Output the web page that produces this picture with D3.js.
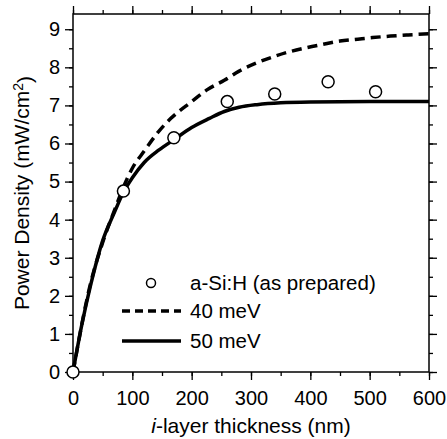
<!DOCTYPE html>
<html>
<head>
<meta charset="utf-8">
<script src="https://cdn.jsdelivr.net/npm/d3@7"></script>
<style>
body { margin: 0; background: #fff; }
text { font-family: "Liberation Sans", Arial, sans-serif; }
</style>
</head>
<body>
<div id="chart-area"></div>
<script>
// measured points
var thickness = [0, 85, 170, 260, 340, 430, 510];
var power = [0, 4.75, 6.15, 7.1, 7.3, 7.62, 7.36];

// model curves
var x40 = [0, 30, 50, 70, 85, 100, 120, 140, 165, 200, 225, 255, 280, 310, 340, 365, 395, 420, 450, 480, 505, 535, 565, 600];
var y40 = [0, 2.35, 3.4, 4.25, 4.85, 5.35, 5.8, 6.23, 6.66, 7.1, 7.4, 7.66, 7.9, 8.12, 8.29, 8.41, 8.52, 8.6, 8.69, 8.74, 8.78, 8.82, 8.85, 8.88];
var x50 = [0, 15, 30, 50, 70, 85, 100, 120, 145, 170, 200, 230, 255, 280, 310, 350, 400, 500, 600];
var y50 = [0, 1.25, 2.3, 3.45, 4.2, 4.72, 5.1, 5.5, 5.83, 6.1, 6.42, 6.66, 6.84, 6.95, 7.02, 7.07, 7.09, 7.1, 7.1];

var xTicks = [0, 100, 200, 300, 400, 500, 600];
var yTicks = [0, 1, 2, 3, 4, 5, 6, 7, 8, 9];

var margin = {top: 14, right: 18, bottom: 67, left: 73};
var width = 447 - margin.left - margin.right;
var height = 439 - margin.top - margin.bottom;

var svg = d3.select("#chart-area").append("svg")
	.attr("width", 447)
	.attr("height", 439);

var g = svg.append("g")
	.attr("transform", "translate(" + margin.left + ", " + margin.top + ")");

var x = d3.scaleLinear().domain([0, 600]).range([0, width]);
var y = d3.scaleLinear().domain([0, 9.4]).range([height, 0]);

var minorX = d3.range(0, 601, 50);
var minorY = d3.range(0, 9.4, 0.5);

function styleAxis(sel) {
	sel.select(".domain").remove();
	sel.selectAll("line").attr("stroke", "#000").attr("stroke-width", 1.3);
	sel.selectAll("text").attr("font-size", "20px").attr("fill", "#000");
}

// minor ticks on all sides
g.append("g").attr("transform", "translate(0," + height + ")")
	.call(d3.axisBottom(x).tickValues(minorX).tickSize(4).tickFormat(""))
	.call(styleAxis);
g.append("g")
	.call(d3.axisTop(x).tickValues(minorX).tickSize(4).tickFormat(""))
	.call(styleAxis);
g.append("g")
	.call(d3.axisLeft(y).tickValues(minorY).tickSize(4).tickFormat(""))
	.call(styleAxis);
g.append("g").attr("transform", "translate(" + width + ",0)")
	.call(d3.axisRight(y).tickValues(minorY).tickSize(4).tickFormat(""))
	.call(styleAxis);

// major ticks
g.append("g").attr("transform", "translate(0," + height + ")")
	.call(d3.axisBottom(x).tickValues(xTicks).tickSize(8).tickPadding(11))
	.call(styleAxis);
g.append("g")
	.call(d3.axisTop(x).tickValues(xTicks).tickSize(8).tickFormat(""))
	.call(styleAxis);
g.append("g")
	.call(d3.axisLeft(y).tickValues(yTicks).tickSize(8).tickPadding(5))
	.call(styleAxis);
g.append("g").attr("transform", "translate(" + width + ",0)")
	.call(d3.axisRight(y).tickValues(yTicks).tickSize(8).tickFormat(""))
	.call(styleAxis);

// frame
g.append("rect")
	.attr("width", width)
	.attr("height", height)
	.attr("fill", "none")
	.attr("stroke", "#000")
	.attr("stroke-width", 1.5);

var line = d3.line()
	.x((d) => x(d[0]))
	.y((d) => y(d[1]))
	.curve(d3.curveMonotoneX);

g.append("path")
	.datum(x40.map((v, i) => [v, y40[i]]))
	.attr("d", line)
	.attr("fill", "none")
	.attr("stroke", "#000")
	.attr("stroke-width", 3.5)
	.attr("stroke-dasharray", "10,6");

g.append("path")
	.datum(x50.map((v, i) => [v, y50[i]]))
	.attr("d", line)
	.attr("fill", "none")
	.attr("stroke", "#000")
	.attr("stroke-width", 3.5);

g.selectAll("circle.pt")
	.data(thickness)
	.enter().append("circle")
	.attr("class", "pt")
	.attr("cx", (d) => x(d))
	.attr("cy", (d, i) => y(power[i]))
	.attr("r", 6)
	.attr("fill", "#fff")
	.attr("stroke", "#000")
	.attr("stroke-width", 1.5);

// legend
var lg = svg.append("g");
lg.append("circle").attr("cx", 151).attr("cy", 283).attr("r", 4.5)
	.attr("fill", "#fff").attr("stroke", "#000").attr("stroke-width", 1.5);
lg.append("line").attr("x1", 122).attr("x2", 181).attr("y1", 311).attr("y2", 311)
	.attr("stroke", "#000").attr("stroke-width", 3.5).attr("stroke-dasharray", "8,5");
lg.append("line").attr("x1", 122).attr("x2", 181).attr("y1", 341).attr("y2", 341)
	.attr("stroke", "#000").attr("stroke-width", 3.5);
var labels = ["a-Si:H (as prepared)", "40 meV", "50 meV"];
var ly = [283, 311, 341];
lg.selectAll("text").data(labels).enter().append("text")
	.attr("x", 190)
	.attr("y", (d, i) => ly[i])
	.attr("dy", "0.36em")
	.attr("font-size", "20.5px")
	.text((d) => d);

// axis titles
var xl = svg.append("text")
	.attr("x", margin.left + width / 2)
	.attr("y", 433)
	.attr("text-anchor", "middle")
	.attr("font-size", "21px");
xl.append("tspan").attr("font-style", "italic").text("i");
xl.append("tspan").text("-layer thickness (nm)");

var yl = svg.append("text")
	.attr("transform", "translate(29," + (margin.top + height / 2) + ") rotate(-90)")
	.attr("text-anchor", "middle")
	.attr("font-size", "21px");
yl.append("tspan").text("Power Density (mW/cm");
yl.append("tspan").attr("dy", "-0.45em").attr("font-size", "14px").text("2");
yl.append("tspan").attr("dy", "0.45em").text(")");
</script>
</body>
</html>
